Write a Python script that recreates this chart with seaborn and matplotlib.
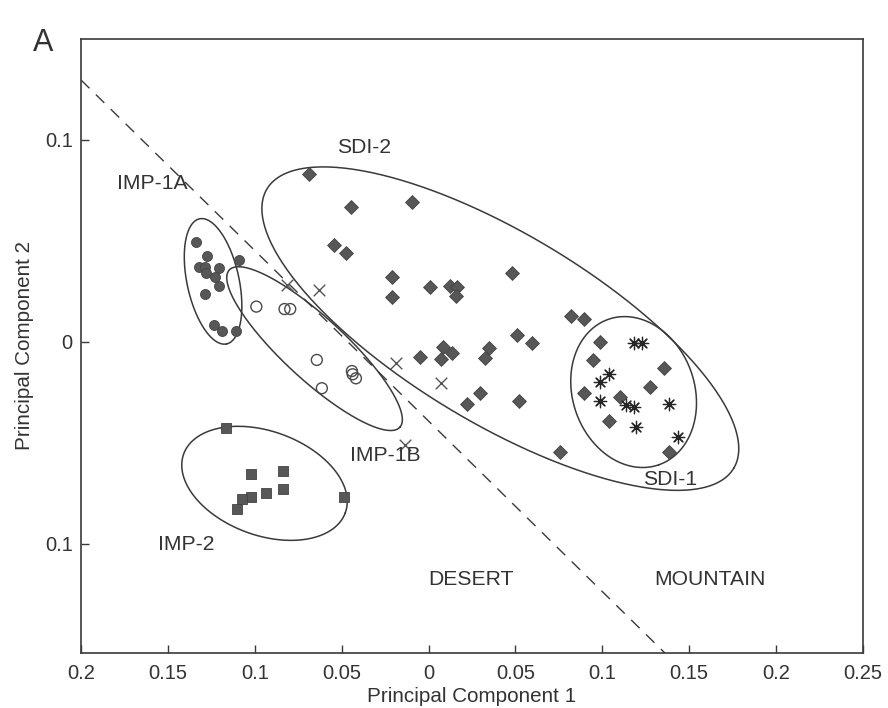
import numpy as np
import pandas as pd
import matplotlib
matplotlib.use("Agg")
import matplotlib.pyplot as plt
import seaborn as sns

# ---------------- data ----------------
imp1a_x = [-0.1337, -0.1276, -0.1323, -0.1285, -0.1279, -0.1208, -0.1227, -0.1204,
           -0.1093, -0.1285, -0.1237, -0.1189, -0.1109]
imp1a_y = [0.0497, 0.0427, 0.0370, 0.0373, 0.0340, 0.0368, 0.0323, 0.0279,
           0.0406, 0.0236, 0.0084, 0.0054, 0.0054]

imp1b_x = [-0.0991, -0.0829, -0.0796, -0.0643, -0.0441, -0.0437, -0.0418, -0.0614]
imp1b_y = [0.0175, 0.0163, 0.0163, -0.0089, -0.0144, -0.0160, -0.0180, -0.0229]

cross_x = [-0.0815, -0.0629, -0.0186, 0.0071, -0.0138]
cross_y = [0.0282, 0.0257, -0.0102, -0.0205, -0.0510]

imp2_x = [-0.1164, -0.1022, -0.0840, -0.0838, -0.0938, -0.1022, -0.1074, -0.1103, -0.0485]
imp2_y = [-0.0424, -0.0653, -0.0637, -0.0726, -0.0749, -0.0769, -0.0779, -0.0828, -0.0769]

sdi2_x = [-0.0687, -0.0449, -0.0096, -0.0543, -0.0476, -0.0209, -0.0209, 0.0008, 0.0125,
          0.0165, 0.0159, 0.0481, 0.0819, 0.0896, 0.0508, 0.0594, 0.0081, 0.0134, 0.0071,
          -0.0048, 0.0345, 0.0326, 0.0297, 0.0221, 0.0518, 0.0945, 0.0896, 0.0758, 0.0984,
          0.1103, 0.1036, 0.1352, 0.1272, 0.1381]
sdi2_y = [0.0830, 0.0670, 0.0692, 0.0482, 0.0441, 0.0322, 0.0224, 0.0271, 0.0279,
          0.0274, 0.0228, 0.0340, 0.0130, 0.0115, 0.0035, -0.0006, -0.0023, -0.0056, -0.0084,
          -0.0076, -0.0028, -0.0078, -0.0251, -0.0308, -0.0290, -0.0089, -0.0254, -0.0543, -0.0002,
          -0.0271, -0.0390, -0.0130, -0.0221, -0.0546]

sdi1_x = [0.1180, 0.1227, 0.1041, 0.0984, 0.0984, 0.1137, 0.1185, 0.1381, 0.1195, 0.1438]
sdi1_y = [-0.0007, -0.0007, -0.0158, -0.0196, -0.0292, -0.0312, -0.0320, -0.0307, -0.0419, -0.0469]

# dashed boundary (desert / mountain)
boundary_x = [-0.2, 0.136]
boundary_y = [0.1297, -0.154]

# group ellipses: name, centre x, centre y, semi-major (ref px), semi-minor (ref px), angle (deg)
ell_names = ["SDI-2", "SDI-1", "IMP-1A", "IMP-1B", "IMP-2"]
ell_cx = [0.0413, 0.1180, -0.1240, -0.0656, -0.0944]
ell_cy = [0.0066, -0.0248, 0.0300, -0.0033, -0.0700]
ell_a = [272, 77, 64, 116, 86]
ell_b = [95, 61, 26, 31, 52]
ell_ang = [-30.9, -71.0, -77.8, -42.7, -20.0]

label_text = ["SDI-2", "IMP-1A", "IMP-1B", "IMP-2", "SDI-1", "DESERT", "MOUNTAIN"]
label_x = [-0.0368, -0.1588, -0.0247, -0.1392, 0.1390, 0.0242, 0.1617]
label_y = [0.0965, 0.0787, -0.0564, -0.1005, -0.0683, -0.1178, -0.1178]

xticks = [-0.2, -0.15, -0.1, -0.05, 0, 0.05, 0.1, 0.15, 0.2, 0.25]
xtick_labels = ["0.2", "0.15", "0.1", "0.05", "0", "0.05", "0.1", "0.15", "0.2", "0.25"]
yticks = [-0.1, 0, 0.1]
ytick_labels = ["0.1", "0", "0.1"]

# ---------------- figure ----------------
sns.set_theme(style="white")
plt.rcParams["font.family"] = ["Liberation Sans", "DejaVu Sans"]

W, H, DPI = 888, 708, 100
fig = plt.figure(figsize=(W / DPI, H / DPI), dpi=DPI)
ax = fig.add_axes([81 / W, (H - 653) / H, (863 - 81) / W, (653 - 39) / H])
XL, YL = (-0.2, 0.25), (-0.154, 0.15)
ax.set_xlim(*XL)
ax.set_ylim(*YL)

pt_col = "#575757"
line_col = "#3a3a3a"
txt_col = "#333333"

def df(x, y):
    return pd.DataFrame({"pc1": x, "pc2": y})

sns.scatterplot(data=df(sdi2_x, sdi2_y), x="pc1", y="pc2", marker="D", s=50,
                color=pt_col, edgecolor="#444444", linewidth=0.6, ax=ax, zorder=3)
sns.scatterplot(data=df(imp1a_x, imp1a_y), x="pc1", y="pc2", marker="o", s=52,
                color=pt_col, edgecolor="#444444", linewidth=0.6, ax=ax, zorder=3)
sns.scatterplot(data=df(imp2_x, imp2_y), x="pc1", y="pc2", marker="s", s=52,
                color=pt_col, edgecolor="#444444", linewidth=0.6, ax=ax, zorder=3)
sns.scatterplot(data=df(imp1b_x, imp1b_y), x="pc1", y="pc2", marker="o", s=62,
                facecolor="none", edgecolor="#4a4a4a", linewidth=1.0, ax=ax, zorder=3)
sns.scatterplot(data=df(cross_x, cross_y), x="pc1", y="pc2", marker="x", s=70,
                color="#555555", linewidth=1.0, ax=ax, zorder=3)
sns.scatterplot(data=df(sdi1_x, sdi1_y), x="pc1", y="pc2", marker=(8, 2, 0), s=80,
                color="#262626", linewidth=0.9, ax=ax, zorder=3)

# dashed boundary
ax.plot(boundary_x, boundary_y, color=line_col, lw=1.0, dashes=(8.5, 6.5), zorder=2)

# ellipses (semi-axes given in reference pixels, converted through the axes scale)
sx = (863 - 81) / (XL[1] - XL[0])
sy = (653 - 39) / (YL[1] - YL[0])
t = np.linspace(0, 2 * np.pi, 400)
for cx, cy, a, b, ang in zip(ell_cx, ell_cy, ell_a, ell_b, ell_ang):
    th = np.deg2rad(ang)
    px = a * np.cos(t) * np.cos(th) - b * np.sin(t) * np.sin(th)
    py = a * np.cos(t) * np.sin(th) + b * np.sin(t) * np.cos(th)
    ax.plot(cx + px / sx, cy + py / sy, color=line_col, lw=1.1, zorder=2)

for s_, x_, y_ in zip(label_text, label_x, label_y):
    ax.text(x_, y_, s_, ha="center", va="center", fontsize=15.2, color=txt_col)

ax.set_xticks(xticks)
ax.set_xticklabels(xtick_labels)
ax.set_yticks(yticks)
ax.set_yticklabels(ytick_labels)
ax.tick_params(axis="both", direction="in", length=6, width=1.0, color=line_col,
               labelsize=14.5, labelcolor=txt_col, bottom=True, left=True,
               top=False, right=False)
ax.tick_params(axis="x", pad=8)
ax.tick_params(axis="y", pad=6)
for sp in ax.spines.values():
    sp.set_color(line_col)
    sp.set_linewidth(1.2)

ax.set_xlabel("Principal Component 1", fontsize=14.9, color=txt_col, labelpad=3)
ax.set_ylabel("Principal Component 2", fontsize=14.9, color=txt_col, labelpad=8)

fig.text(33 / W, 1 - 43 / H, "A", fontsize=22, color=txt_col, ha="left", va="center")

fig.savefig("out.png", dpi=DPI)
